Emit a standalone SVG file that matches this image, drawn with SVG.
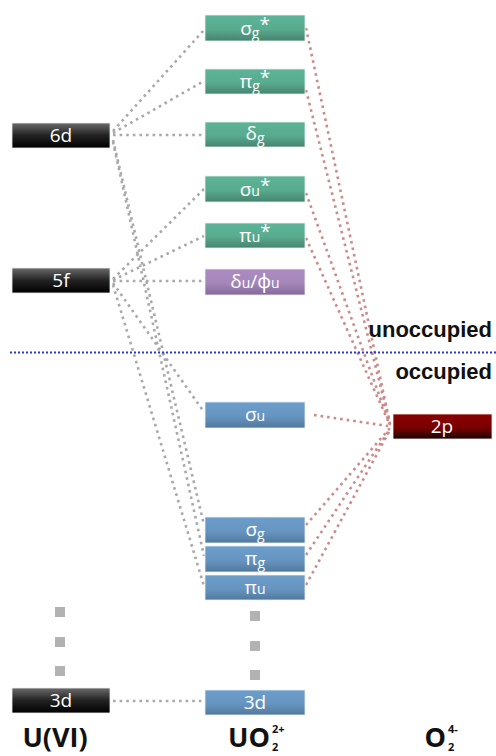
<svg xmlns="http://www.w3.org/2000/svg" width="496" height="756" viewBox="0 0 496 756">
<defs>
<linearGradient id="gGreen" x1="0" y1="0" x2="0" y2="1"><stop offset="0" stop-color="#5cb497"/><stop offset="0.55" stop-color="#58ab8f"/><stop offset="1" stop-color="#46836f"/></linearGradient>
<linearGradient id="gBlue" x1="0" y1="0" x2="0" y2="1"><stop offset="0" stop-color="#6c9dcb"/><stop offset="0.55" stop-color="#6795c1"/><stop offset="1" stop-color="#51789c"/></linearGradient>
<linearGradient id="gPurple" x1="0" y1="0" x2="0" y2="1"><stop offset="0" stop-color="#ac8cc2"/><stop offset="0.55" stop-color="#a486b8"/><stop offset="1" stop-color="#83699a"/></linearGradient>
<linearGradient id="gBlack" x1="0" y1="0" x2="0" y2="1"><stop offset="0" stop-color="#6a6a6a"/><stop offset="0.5" stop-color="#222"/><stop offset="1" stop-color="#000"/></linearGradient>
<linearGradient id="gRed" x1="0" y1="0" x2="0" y2="1"><stop offset="0" stop-color="#8a0000"/><stop offset="0.55" stop-color="#7a0000"/><stop offset="1" stop-color="#1a0000"/></linearGradient>
</defs>
<style>
.box{stroke:#e8f0ee;stroke-width:0.8}
.lbl{fill:#fff;font-family:"Open Sans","Noto Sans","Liberation Sans",sans-serif;font-size:19px;text-anchor:middle}
.sub{font-size:14px}
.gray{stroke:#a9a9a9;stroke-width:2.6;stroke-dasharray:2.6 4;fill:none}
.red{stroke:#cd8a8a;stroke-width:2.6;stroke-dasharray:2.6 4;fill:none}
.sq{fill:#b2b2b2}
.big{font-family:"Open Sans","Noto Sans","Liberation Sans",sans-serif;font-weight:bold;font-size:27px;fill:#111}
.sm{font-family:"Open Sans","Noto Sans","Liberation Sans",sans-serif;font-weight:bold;font-size:11px;fill:#111}
.occ{font-family:"Liberation Sans","Noto Sans",sans-serif;font-weight:bold;font-size:22px;fill:#111;text-anchor:end}
</style>
<g id="connectors">
<line class="gray" x1="113" y1="131" x2="204" y2="30"/>
<line class="gray" x1="113" y1="133" x2="204" y2="81"/>
<line class="gray" x1="113" y1="135" x2="204" y2="135"/>
<line class="gray" x1="113" y1="140" x2="204" y2="525"/>
<line class="gray" x1="113" y1="142" x2="204" y2="556"/>
<line class="gray" x1="113" y1="279" x2="204" y2="189"/>
<line class="gray" x1="113" y1="280" x2="204" y2="236"/>
<line class="gray" x1="113" y1="281" x2="204" y2="281"/>
<line class="gray" x1="113" y1="283" x2="204" y2="412"/>
<line class="gray" x1="113" y1="285" x2="204" y2="586"/>
<line class="gray" x1="113" y1="701" x2="204" y2="701"/>
<line class="red" x1="306" y1="28" x2="390" y2="424"/>
<line class="red" x1="306" y1="90" x2="390" y2="424"/>
<line class="red" x1="306" y1="193" x2="390" y2="425"/>
<line class="red" x1="306" y1="238" x2="390" y2="425"/>
<line class="red" x1="314" y1="415" x2="388" y2="426"/>
<line class="red" x1="306" y1="525" x2="390" y2="428"/>
<line class="red" x1="306" y1="555" x2="390" y2="429"/>
<line class="red" x1="306" y1="585" x2="390" y2="430"/>
<line x1="10" y1="352.5" x2="496" y2="352.5" stroke="#2b35e0" stroke-width="2" stroke-dasharray="2 2"/>
<rect class="sq" x="55" y="607" width="10" height="10"/>
<rect class="sq" x="55" y="637" width="10" height="10"/>
<rect class="sq" x="55" y="666" width="10" height="10"/>
<rect class="sq" x="250" y="611" width="10" height="10"/>
<rect class="sq" x="250" y="641" width="10" height="10"/>
<rect class="sq" x="250" y="670" width="10" height="10"/>
</g>
<g id="U6d"><rect class="box" x="12" y="123" width="98" height="25" fill="url(#gBlack)"/><text class="lbl" x="61" y="142">6d</text></g>
<g id="U5f"><rect class="box" x="12" y="268" width="98" height="25" fill="url(#gBlack)"/><text class="lbl" x="61" y="287">5f</text></g>
<g id="U3d"><rect class="box" x="12" y="688" width="98" height="25" fill="url(#gBlack)"/><text class="lbl" x="61" y="707">3d</text></g>
<g id="sigma_g_star"><rect class="box" x="205" y="15" width="100" height="26" fill="url(#gGreen)"/><text class="lbl" x="255" y="35">σ<tspan class="sub" dy="3">g</tspan><tspan dy="-7">*</tspan></text></g>
<g id="pi_g_star"><rect class="box" x="205" y="69" width="100" height="25" fill="url(#gGreen)"/><text class="lbl" x="255" y="88">π<tspan class="sub" dy="3">g</tspan><tspan dy="-7">*</tspan></text></g>
<g id="delta_g"><rect class="box" x="205" y="122" width="100" height="25" fill="url(#gGreen)"/><text class="lbl" x="255" y="140">δ<tspan class="sub" dy="3">g</tspan></text></g>
<g id="sigma_u_star"><rect class="box" x="205" y="176" width="100" height="26" fill="url(#gGreen)"/><text class="lbl" x="255" y="196">σ<tspan class="sub" dy="0">u</tspan><tspan dy="-4">*</tspan></text></g>
<g id="pi_u_star"><rect class="box" x="205" y="223" width="100" height="25" fill="url(#gGreen)"/><text class="lbl" x="255" y="242">π<tspan class="sub" dy="0">u</tspan><tspan dy="-4">*</tspan></text></g>
<g id="delta_phi_u"><rect class="box" x="205" y="269" width="100" height="26" fill="url(#gPurple)"/><text class="lbl" x="255" y="288">δ<tspan class="sub">u</tspan>/ϕ<tspan class="sub">u</tspan></text></g>
<g id="sigma_u"><rect class="box" x="205" y="402" width="100" height="26" fill="url(#gBlue)"/><text class="lbl" x="255" y="421">σ<tspan class="sub">u</tspan></text></g>
<g id="sigma_g"><rect class="box" x="205" y="517" width="100" height="26" fill="url(#gBlue)"/><text class="lbl" x="255" y="536">σ<tspan class="sub" dy="3">g</tspan></text></g>
<g id="pi_g"><rect class="box" x="205" y="546" width="100" height="26" fill="url(#gBlue)"/><text class="lbl" x="255" y="565">π<tspan class="sub" dy="3">g</tspan></text></g>
<g id="pi_u"><rect class="box" x="205" y="575" width="100" height="25" fill="url(#gBlue)"/><text class="lbl" x="255" y="594">π<tspan class="sub">u</tspan></text></g>
<g id="UO2_3d"><rect class="box" x="205" y="690" width="100" height="25" fill="url(#gBlue)"/><text class="lbl" x="255" y="709">3d</text></g>
<g id="O2p"><rect class="box" x="393" y="414" width="99" height="25" fill="url(#gRed)"/><text class="lbl" x="442" y="433">2p</text></g>
<g id="labels">
<text class="big" x="55" y="747" text-anchor="middle">U(VI)</text>
<text class="big" x="270" y="747" text-anchor="end">UO</text>
<text class="sm" x="272" y="751">2</text>
<text class="sm" x="272" y="733">2+</text>
<text class="big" x="446" y="747" text-anchor="end">O</text>
<text class="sm" x="448" y="751">2</text>
<text class="sm" x="448" y="733">4-</text>
<text class="occ" x="492" y="337">unoccupied</text>
<text class="occ" x="492" y="379">occupied</text>
</g>
</svg>
